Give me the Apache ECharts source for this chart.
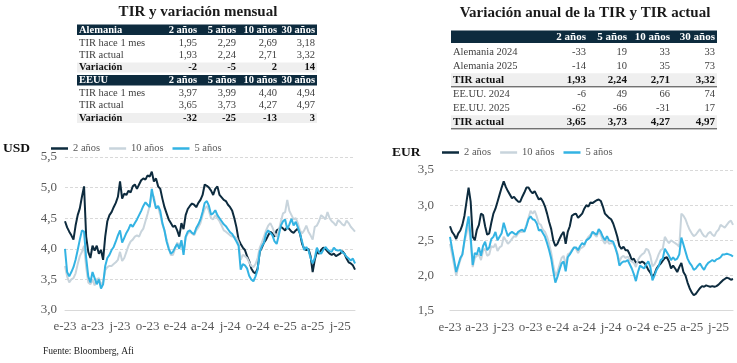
<!DOCTYPE html>
<html><head><meta charset="utf-8">
<script src="https://cdn.jsdelivr.net/npm/echarts@6/dist/echarts.min.js"></script>
<style>html,body{margin:0;padding:0;background:#fff}#c{width:737px;height:363px}</style>
</head><body><div id="c"></div>
<script>
// ---------- DATA ----------
const startDate = '2023-01-02'; // weekly observations (Mondays)
const seriesNames = ['2 años', '10 años', '5 años'];

const usd2y = [
4.45,4.35,4.28,4.22,4.15,4.38,4.55,4.66,4.85,5.02,
4.20,3.95,3.85,4.05,3.97,4.05,3.92,3.98,3.82,4.20,
4.45,4.55,4.60,4.68,4.75,4.85,5.10,4.82,4.90,4.88,
4.95,4.92,5.02,5.05,4.98,5.05,5.12,5.15,5.13,5.20,
5.18,5.26,5.10,5.15,5.02,4.98,4.82,4.68,4.58,4.48,
4.42,4.36,4.38,4.30,4.20,4.42,4.32,4.55,4.65,4.70,
4.74,4.72,4.68,4.75,4.80,4.88,5.05,5.03,5.00,4.95,
4.88,4.98,5.02,4.88,4.84,4.80,4.78,4.72,4.68,4.62,
4.50,4.35,4.15,4.08,4.02,3.98,3.88,3.80,3.68,3.62,
3.60,3.68,3.95,4.02,4.10,4.15,4.22,4.28,4.25,4.20,
4.30,4.32,4.36,4.33,4.30,4.36,4.32,4.28,4.26,4.30,
4.33,4.25,4.08,4.00,3.98,4.00,3.88,3.62,3.82,3.95,
3.92,3.98,4.02,4.00,3.96,3.92,3.90,3.92,3.88,3.90,
3.92,3.96,3.92,3.84,3.78,3.76,3.73,3.66];
const usd10y = [
3.72,3.55,3.45,3.50,3.52,3.60,3.75,3.88,3.95,4.05,
3.70,3.45,3.42,3.50,3.40,3.50,3.52,3.42,3.45,3.65,
3.70,3.72,3.72,3.75,3.78,3.82,3.95,3.80,3.85,3.95,
4.05,4.12,4.15,4.20,4.22,4.20,4.28,4.33,4.45,4.57,
4.70,4.90,4.85,4.66,4.68,4.55,4.40,4.30,4.15,4.02,
3.90,3.90,4.00,4.10,4.05,4.12,3.95,4.18,4.25,4.28,
4.25,4.22,4.30,4.35,4.42,4.55,4.65,4.70,4.62,4.50,
4.48,4.55,4.50,4.45,4.38,4.30,4.28,4.25,4.22,4.20,
4.20,4.18,4.10,3.82,3.90,3.88,3.85,3.78,3.72,3.70,
3.75,3.85,4.02,4.10,4.20,4.30,4.38,4.42,4.35,4.25,
4.20,4.30,4.45,4.58,4.60,4.80,4.62,4.55,4.48,4.50,
4.42,4.30,4.25,4.30,4.38,4.28,4.22,4.15,4.36,4.38,
4.45,4.55,4.52,4.48,4.60,4.50,4.45,4.42,4.38,4.47,
4.44,4.40,4.38,4.46,4.42,4.36,4.32,4.28];
const usd5y = [
4.00,3.62,3.55,3.62,3.70,3.82,3.98,4.15,4.30,4.28,
3.85,3.55,3.45,3.62,3.52,3.42,3.50,3.35,3.42,3.72,
3.85,3.90,3.98,4.03,4.12,4.22,4.30,4.10,4.18,4.26,
4.32,4.40,4.36,4.42,4.48,4.55,4.62,4.70,4.76,4.72,
4.68,4.98,4.80,4.66,4.70,4.62,4.42,4.30,4.12,4.00,
3.92,3.95,4.02,4.08,4.00,4.14,3.90,4.20,4.28,4.30,
4.26,4.24,4.34,4.40,4.48,4.60,4.75,4.78,4.70,4.56,
4.58,4.63,4.55,4.50,4.45,4.40,4.37,4.32,4.27,4.24,
4.18,4.12,4.05,3.66,3.75,3.73,3.68,3.56,3.50,3.47,
3.55,3.66,3.95,4.04,4.10,4.25,4.30,4.26,4.22,4.12,
4.08,4.22,4.38,4.45,4.48,4.32,4.40,4.49,4.38,4.44,
4.35,4.25,4.12,3.98,4.03,3.98,3.85,3.76,3.85,4.02,
3.94,3.92,3.98,4.03,3.99,3.96,3.95,4.02,3.98,3.97,
3.98,3.94,3.92,3.87,3.84,3.81,3.84,3.76];

const eur2y = [
2.70,2.62,2.58,2.52,2.60,2.64,2.72,2.85,3.05,3.25,
3.05,2.55,2.50,2.65,2.72,2.88,2.86,2.70,2.58,2.60,
2.75,2.88,2.95,3.05,3.15,3.25,3.34,3.26,3.20,3.15,
3.10,3.12,3.08,3.05,3.05,3.12,3.18,3.25,3.25,3.20,
3.17,3.20,3.14,3.08,3.10,3.05,2.98,2.88,2.76,2.66,
2.50,2.42,2.45,2.52,2.58,2.62,2.45,2.62,2.70,2.85,
2.87,2.88,2.82,2.85,2.88,2.95,3.00,2.98,3.04,3.03,
3.05,3.07,3.08,3.06,2.98,2.88,2.85,2.82,2.80,2.74,
2.65,2.55,2.42,2.38,2.41,2.36,2.36,2.30,2.22,2.24,
2.18,2.20,2.18,2.20,2.18,2.14,2.08,2.04,1.98,2.02,
2.10,2.14,2.17,2.21,2.25,2.26,2.20,2.10,2.14,2.10,
2.05,2.12,2.18,2.05,2.00,1.90,1.82,1.76,1.72,1.74,
1.78,1.82,1.85,1.84,1.86,1.85,1.84,1.85,1.84,1.85,
1.87,1.90,1.93,1.95,1.97,1.96,1.94,1.95];
const eur10y = [
2.45,2.30,2.15,2.00,2.12,2.22,2.30,2.48,2.60,2.72,
2.48,2.12,2.25,2.28,2.30,2.22,2.35,2.38,2.28,2.30,
2.42,2.40,2.45,2.35,2.40,2.42,2.55,2.50,2.45,2.48,
2.52,2.56,2.55,2.60,2.62,2.62,2.64,2.72,2.82,2.92,
2.88,2.92,2.84,2.74,2.72,2.65,2.62,2.55,2.45,2.32,
2.15,2.00,2.05,2.15,2.25,2.28,2.15,2.30,2.32,2.36,
2.40,2.38,2.32,2.38,2.40,2.42,2.50,2.55,2.58,2.62,
2.58,2.55,2.64,2.58,2.50,2.45,2.50,2.45,2.46,2.45,
2.40,2.32,2.20,2.26,2.28,2.25,2.27,2.22,2.20,2.18,
2.12,2.22,2.27,2.30,2.32,2.38,2.36,2.28,2.13,2.16,
2.22,2.30,2.36,2.38,2.55,2.50,2.46,2.50,2.48,2.46,
2.44,2.41,2.88,2.85,2.80,2.72,2.65,2.60,2.56,2.58,
2.62,2.66,2.60,2.56,2.55,2.60,2.62,2.58,2.56,2.62,
2.65,2.72,2.70,2.68,2.72,2.76,2.78,2.72];
const eur5y = [
2.55,2.38,2.22,2.05,2.15,2.25,2.30,2.50,2.68,2.84,
2.55,2.15,2.32,2.30,2.40,2.28,2.42,2.48,2.36,2.40,
2.52,2.55,2.62,2.50,2.55,2.60,2.75,2.65,2.56,2.60,
2.62,2.60,2.58,2.62,2.64,2.65,2.62,2.70,2.80,2.84,
2.80,2.79,2.74,2.64,2.65,2.60,2.55,2.46,2.36,2.24,
2.06,1.90,1.98,2.08,2.17,2.20,2.06,2.26,2.30,2.35,
2.40,2.40,2.36,2.42,2.46,2.44,2.50,2.52,2.55,2.62,
2.60,2.58,2.66,2.62,2.55,2.50,2.56,2.50,2.49,2.48,
2.40,2.30,2.14,2.18,2.20,2.20,2.22,2.16,2.10,2.02,
1.92,2.05,2.14,2.12,2.10,2.16,2.20,2.12,1.93,2.00,
2.08,2.13,2.22,2.24,2.38,2.33,2.28,2.22,2.26,2.22,
2.24,2.30,2.54,2.44,2.34,2.24,2.18,2.14,2.08,2.10,
2.14,2.17,2.12,2.08,2.14,2.18,2.20,2.22,2.20,2.23,
2.24,2.26,2.30,2.30,2.31,2.30,2.29,2.27];

// Table data
const tenorCols = ['2 años', '5 años', '10 años', '30 años'];
const deMonthAgo = [1.95, 2.29, 2.69, 3.18];
const deNow      = [1.93, 2.24, 2.71, 3.32];
const deChange   = [-2, -5, 2, 14];
const usMonthAgo = [3.97, 3.99, 4.40, 4.94];
const usNow      = [3.65, 3.73, 4.27, 4.97];
const usChange   = [-32, -25, -13, 3];
const de2024 = [-33, 19, 33, 33];
const de2025 = [-14, 10, 35, 73];
const us2024 = [-6, 49, 66, 74];
const us2025 = [-62, -66, -31, 17];

// ---------- BUILD ----------
const DAY = 86400000;
const t0 = Date.parse(startDate + 'T00:00:00Z');
const weeks = usd2y.map((_, i) => new Date(t0 + i * 7 * DAY).toISOString().slice(0, 10));
const monthLetters = ['e','f','m','a','m','j','j','a','s','o','n','d'];
// label a week if the 1st of a quarter-start month falls within 3 days of it
const tickText = weeks.map(w => {
  const d0 = Date.parse(w + 'T00:00:00Z');
  for (let k = -3; k <= 3; k++) {
    const d = new Date(d0 + k * DAY);
    if (d.getUTCDate() === 1 && d.getUTCMonth() % 3 === 0)
      return monthLetters[d.getUTCMonth()] + '-' + String(d.getUTCFullYear()).slice(2);
  }
  return '';
});

const colors = ['#0d2b3e', '#c8d4dc', '#33b3e3'];
const SERIF = "'Liberation Serif', 'Times New Roman', serif";
const fmt2 = v => v.toFixed(2).replace('.', ',');
const fmt1 = v => v.toFixed(1).replace('.', ',');

function xAxisFor(gridIndex) {
  return {
    type: 'category', gridIndex, data: weeks, boundaryGap: false,
    axisLine: { lineStyle: { color: '#d9d9d9', width: 1 } },
    axisTick: { show: false },
    splitLine: { show: false },
    axisLabel: {
      interval: i => tickText[i] !== '',
      formatter: (v, i) => tickText[i],
      showMinLabel: true, showMaxLabel: true,
      color: '#595959', fontFamily: SERIF, fontSize: 13, margin: 10, hideOverlap: false
    }
  };
}
function yAxisFor(gridIndex, min, max, margin) {
  return {
    type: 'value', gridIndex, min, max, interval: 0.5,
    axisLine: { show: false }, axisTick: { show: false },
    splitLine: { lineStyle: { color: '#d9d9d9', type: [3, 2] } },
    axisLabel: { formatter: fmt1, color: '#595959', fontFamily: SERIF, fontSize: 13, margin,
      showMinLabel: true, showMaxLabel: true, hideOverlap: false }
  };
}
function lineSeries(name, data, idx, color) {
  return {
    name, type: 'line', data, xAxisIndex: idx, yAxisIndex: idx,
    showSymbol: false, symbol: 'none', smooth: false,
    lineStyle: { color, width: 2 }, itemStyle: { color },
    emphasis: { disabled: true }
  };
}

// ---------- graphics for tables ----------
const G = [];
function txt(x, y, text, opt = {}) {
  G.push({ type: 'text', x, y, silent: true, z: 10,
    style: { text, fill: opt.fill || '#262626', font: (opt.bold ? 'bold ' : '') + (opt.size || 10) + 'px ' + SERIF,
      textAlign: opt.align || 'left', textVerticalAlign: 'middle' } });
}
function rect(x, y, w, h, fill) {
  G.push({ type: 'rect', shape: { x, y, width: w, height: h }, style: { fill }, silent: true, z: 5 });
}
function hline(x1, x2, y, color) {
  G.push({ type: 'line', shape: { x1, y1: y, x2, y2: y }, style: { stroke: color, lineWidth: 1 }, silent: true, z: 6 });
}

// Left table
const L = { labelX: 79, cols: [197, 236, 277, 315], bandX: 77, bandW: 240 };
txt(198, 12, 'TIR y variación mensual', { bold: true, size: 15, align: 'center', fill: '#1a1a1a' });
function leftBlock(title, yBand, monthAgo, now, change) {
  rect(L.bandX, yBand, L.bandW, 10.5, colors[0]);
  txt(L.labelX, yBand + 5.5, title, { bold: true, size: 10.5, fill: '#fff' });
  tenorCols.forEach((c, i) => txt(L.cols[i], yBand + 5.5, c, { bold: true, size: 10.5, fill: '#fff', align: 'right' }));
  const rows = [['TIR hace 1 mes', monthAgo.map(fmt2)], ['TIR actual', now.map(fmt2)]];
  rows.forEach((r, k) => {
    const y = yBand + 18.5 + k * 12;
    txt(L.labelX, y, r[0], { size: 10.5, fill: '#404040' });
    r[1].forEach((v, i) => txt(L.cols[i], y, v, { size: 10.5, fill: '#404040', align: 'right' }));
  });
  const yv = yBand + 43;
  rect(L.bandX, yv - 5, L.bandW, 10, '#efefef');
  txt(L.labelX, yv, 'Variación', { bold: true, size: 10.5, fill: '#111' });
  change.forEach((v, i) => txt(L.cols[i], yv, String(v), { bold: true, size: 10.5, fill: '#111', align: 'right' }));
}
leftBlock('Alemania', 24.5, deMonthAgo, deNow, deChange);
leftBlock('EEUU', 75, usMonthAgo, usNow, usChange);

// Right table
const R = { labelX: 453, cols: [586, 627, 670, 715], bandX: 451, bandW: 266 };
txt(585, 13, 'Variación anual de la TIR y TIR actual', { bold: true, size: 15, align: 'center', fill: '#1a1a1a' });
rect(R.bandX, 30.5, R.bandW, 12.5, colors[0]);
tenorCols.forEach((c, i) => txt(R.cols[i], 37, c, { bold: true, size: 11, fill: '#fff', align: 'right' }));
function rightBlock(y0, names, a, b, now) {
  [[names[0], a], [names[1], b]].forEach((r, k) => {
    const y = y0 + k * 14;
    txt(R.labelX, y, r[0], { size: 10.5, fill: '#404040' });
    r[1].forEach((v, i) => txt(R.cols[i], y, String(v), { size: 10.5, fill: '#404040', align: 'right' }));
  });
  const yt = y0 + 27.8;
  rect(R.bandX, yt - 6.6, R.bandW, 13.2, '#efefef');
  hline(R.bandX, R.bandX + R.bandW, yt + 7, '#3a3a3a');
  txt(R.labelX, yt, 'TIR actual', { bold: true, size: 11, fill: '#111' });
  now.forEach((v, i) => txt(R.cols[i], yt, fmt2(v), { bold: true, size: 11, fill: '#111', align: 'right' }));
}
rightBlock(52, ['Alemania 2024', 'Alemania 2025'], de2024, de2025, deNow);
rightBlock(94, ['EE.UU. 2024', 'EE.UU. 2025'], us2024, us2025, usNow);

// chart labels & footer
txt(3, 149, 'USD', { bold: true, size: 13.5, fill: '#111' });
txt(392, 153, 'EUR', { bold: true, size: 13.5, fill: '#111' });
txt(43, 351, 'Fuente: Bloomberg, Afi', { size: 9.5, fill: '#222' });

const legendBase = {
  data: seriesNames, icon: 'rect', itemWidth: 17, itemHeight: 2.5, itemGap: 9,
  textStyle: { fontFamily: SERIF, fontSize: 10.5, color: '#595959' },
  selectedMode: false, padding: 0
};

const chart = echarts.init(document.getElementById('c'), null, { renderer: 'canvas' });
chart.setOption({
  animation: false,
  backgroundColor: '#fff',
  color: colors,
  legend: [
    Object.assign({}, legendBase, { left: 51, top: 143 }),
    Object.assign({}, legendBase, { left: 442, top: 147 })
  ],
  grid: [
    { left: 65, top: 157, width: 290, height: 153 },
    { left: 450, top: 170, width: 283, height: 140.7 }
  ],
  xAxis: [xAxisFor(0), xAxisFor(1)],
  yAxis: [yAxisFor(0, 3, 5.5, 8), yAxisFor(1, 1.5, 3.5, 16)],
  series: [
    lineSeries(seriesNames[0], usd2y, 0, colors[0]),
    lineSeries(seriesNames[1], usd10y, 0, colors[1]),
    lineSeries(seriesNames[2], usd5y, 0, colors[2]),
    lineSeries(seriesNames[0], eur2y, 1, colors[0]),
    lineSeries(seriesNames[1], eur10y, 1, colors[1]),
    lineSeries(seriesNames[2], eur5y, 1, colors[2])
  ],
  graphic: G
});
</script></body></html>
